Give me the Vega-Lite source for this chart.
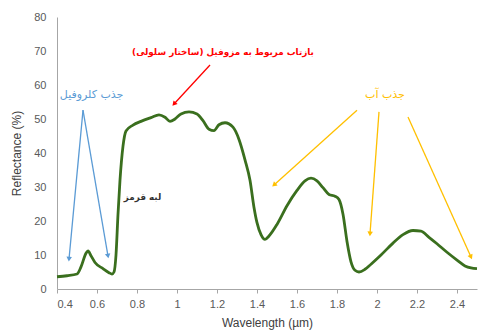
{
  "$schema": "https://vega.github.io/schema/vega-lite/v6.json",
  "width": 420,
  "height": 272,
  "autosize": {"type": "none"},
  "padding": {"left": 57, "top": 17, "right": 5, "bottom": 43},
  "background": "white",
  "config": {
    "view": {"stroke": null},
    "axis": {
      "labelFont": "Liberation Sans",
      "labelFontSize": 11,
      "labelColor": "#595959",
      "labelOverlap": false,
      "titleFont": "Liberation Sans",
      "titleFontSize": 12,
      "titleFontWeight": "normal",
      "titleColor": "#404040",
      "domainColor": "#a6a6a6",
      "tickColor": "#a6a6a6",
      "grid": false
    }
  },
  "datasets": {
    "spec": [
      {"w": 0.40, "r": 3.6}, {"w": 0.45, "r": 3.9}, {"w": 0.50, "r": 4.4}, {"w": 0.52, "r": 6.5},
      {"w": 0.545, "r": 10.5}, {"w": 0.555, "r": 11.2}, {"w": 0.57, "r": 9.8}, {"w": 0.59, "r": 7.8},
      {"w": 0.63, "r": 6.0}, {"w": 0.66, "r": 4.8}, {"w": 0.675, "r": 4.4}, {"w": 0.685, "r": 5.0},
      {"w": 0.695, "r": 10}, {"w": 0.705, "r": 22}, {"w": 0.715, "r": 32}, {"w": 0.73, "r": 42},
      {"w": 0.745, "r": 46.5}, {"w": 0.78, "r": 48.2}, {"w": 0.82, "r": 49.3}, {"w": 0.87, "r": 50.4},
      {"w": 0.91, "r": 51.2}, {"w": 0.94, "r": 50.5}, {"w": 0.965, "r": 49.3}, {"w": 0.99, "r": 50.0},
      {"w": 1.02, "r": 51.5}, {"w": 1.06, "r": 52.1}, {"w": 1.10, "r": 51.5}, {"w": 1.13, "r": 49.5},
      {"w": 1.16, "r": 47}, {"w": 1.185, "r": 46.6}, {"w": 1.21, "r": 48.3}, {"w": 1.24, "r": 48.9},
      {"w": 1.28, "r": 47.6}, {"w": 1.31, "r": 44}, {"w": 1.34, "r": 38}, {"w": 1.365, "r": 32},
      {"w": 1.385, "r": 24}, {"w": 1.40, "r": 19.5}, {"w": 1.42, "r": 16}, {"w": 1.44, "r": 14.6},
      {"w": 1.46, "r": 15.6}, {"w": 1.50, "r": 19}, {"w": 1.55, "r": 24.5}, {"w": 1.60, "r": 29},
      {"w": 1.64, "r": 31.8}, {"w": 1.67, "r": 32.6}, {"w": 1.70, "r": 31.8}, {"w": 1.73, "r": 29.8},
      {"w": 1.76, "r": 27.8}, {"w": 1.79, "r": 27.3}, {"w": 1.81, "r": 26.3}, {"w": 1.83, "r": 22},
      {"w": 1.85, "r": 14}, {"w": 1.87, "r": 8}, {"w": 1.89, "r": 5.5}, {"w": 1.91, "r": 5},
      {"w": 1.94, "r": 5.8}, {"w": 1.97, "r": 7.3}, {"w": 2.02, "r": 10}, {"w": 2.08, "r": 13.5},
      {"w": 2.13, "r": 16}, {"w": 2.18, "r": 17.2}, {"w": 2.22, "r": 17.0}, {"w": 2.26, "r": 15.2},
      {"w": 2.30, "r": 13.3}, {"w": 2.35, "r": 10.8}, {"w": 2.40, "r": 8.5}, {"w": 2.44, "r": 6.8},
      {"w": 2.47, "r": 6.2}, {"w": 2.50, "r": 6.0}
    ],
    "arrows": [
      {"g": "chl", "x1": 0.53, "y1": 52.6, "x2": 0.46, "y2": 8.8, "dir": 185},
      {"g": "chl", "x1": 0.53, "y1": 52.6, "x2": 0.655, "y2": 9.7, "dir": 170.5},
      {"g": "mes", "x1": 1.165, "y1": 65.9, "x2": 0.985, "y2": 54.4, "dir": 221.5},
      {"g": "wat", "x1": 1.9, "y1": 52.6, "x2": 1.485, "y2": 30.6, "dir": 228},
      {"g": "wat", "x1": 2.01, "y1": 52.1, "x2": 1.965, "y2": 16.2, "dir": 184},
      {"g": "wat", "x1": 2.155, "y1": 50.6, "x2": 2.47, "y2": 9.4, "dir": 156}
    ],
    "labelsNormal": [
      {"g": "chl", "x": 0.573, "y": 57.1, "t": "جذب کلروفیل"},
      {"g": "wat", "x": 2.04, "y": 57.1, "t": "جذب آب"}
    ],
    "labelsBold": [
      {"g": "mes", "x": 1.23, "y": 69.7, "t": "بازتاب مربوط به مزوفیل (ساختار سلولی)"},
      {"g": "red", "x": 0.8275, "y": 27, "t": "لبه قرمز"}
    ]
  },
  "encoding": {},
  "layer": [
    {
      "data": {"name": "spec"},
      "mark": {"type": "line", "interpolate": "monotone", "color": "#3a6f1e", "strokeWidth": 2.8},
      "encoding": {
        "x": {
          "field": "w", "type": "quantitative",
          "scale": {"domain": [0.4, 2.5], "nice": false, "zero": false},
          "axis": {
            "title": "Wavelength (µm)",
            "values": [0.4, 0.6, 0.8, 1, 1.2, 1.4, 1.6, 1.8, 2, 2.2, 2.4],
            "format": ".1~f",
            "labelOverlap": false,
            "tickSize": 4,
            "labelPadding": 5,
            "titlePadding": 8
          }
        },
        "y": {
          "field": "r", "type": "quantitative",
          "scale": {"domain": [0, 80], "nice": false},
          "axis": {
            "title": "Reflectance (%)",
            "values": [0, 10, 20, 30, 40, 50, 60, 70, 80],
            "labelOverlap": false,
            "ticks": false,
            "labelPadding": 11,
            "titlePadding": 10
          }
        }
      }
    },
    {
      "data": {"name": "arrows"},
      "mark": {"type": "rule", "strokeWidth": 1.3},
      "encoding": {
        "x": {"field": "x1", "type": "quantitative", "axis": {"title": "Wavelength (µm)", "values": [0.4, 0.6, 0.8, 1, 1.2, 1.4, 1.6, 1.8, 2, 2.2, 2.4], "format": ".1~f", "labelOverlap": false, "tickSize": 4, "labelPadding": 5, "titlePadding": 8}},
        "y": {"field": "y1", "type": "quantitative", "axis": {"title": "Reflectance (%)", "values": [0, 10, 20, 30, 40, 50, 60, 70, 80], "labelOverlap": false, "ticks": false, "labelPadding": 11, "titlePadding": 10}},
        "x2": {"field": "x2"},
        "y2": {"field": "y2"},
        "color": {"field": "g", "type": "nominal", "scale": {"domain": ["chl", "mes", "wat", "red"], "range": ["#5b9bd5", "#ff0000", "#ffc000", "#333333"]}, "legend": null}
      }
    },
    {
      "data": {"name": "arrows"},
      "mark": {"type": "point", "shape": "triangle-up", "filled": true, "size": 30, "opacity": 1},
      "encoding": {
        "x": {"field": "x2", "type": "quantitative", "axis": {"title": "Wavelength (µm)", "values": [0.4, 0.6, 0.8, 1, 1.2, 1.4, 1.6, 1.8, 2, 2.2, 2.4], "format": ".1~f", "labelOverlap": false, "tickSize": 4, "labelPadding": 5, "titlePadding": 8}},
        "y": {"field": "y2", "type": "quantitative", "axis": {"title": "Reflectance (%)", "values": [0, 10, 20, 30, 40, 50, 60, 70, 80], "labelOverlap": false, "ticks": false, "labelPadding": 11, "titlePadding": 10}},
        "angle": {"field": "dir", "type": "quantitative", "scale": null},
        "color": {"field": "g", "type": "nominal", "legend": null}
      }
    },
    {
      "data": {"name": "labelsNormal"},
      "mark": {"type": "text", "font": "DejaVu Sans", "fontSize": 11, "align": "center", "baseline": "middle"},
      "encoding": {
        "x": {"field": "x", "type": "quantitative", "axis": {"title": "Wavelength (µm)", "values": [0.4, 0.6, 0.8, 1, 1.2, 1.4, 1.6, 1.8, 2, 2.2, 2.4], "format": ".1~f", "labelOverlap": false, "tickSize": 4, "labelPadding": 5, "titlePadding": 8}},
        "y": {"field": "y", "type": "quantitative", "axis": {"title": "Reflectance (%)", "values": [0, 10, 20, 30, 40, 50, 60, 70, 80], "labelOverlap": false, "ticks": false, "labelPadding": 11, "titlePadding": 10}},
        "text": {"field": "t"},
        "color": {"field": "g", "type": "nominal", "legend": null}
      }
    },
    {
      "data": {"name": "labelsBold"},
      "mark": {"type": "text", "font": "DejaVu Sans", "fontSize": 8.8, "fontWeight": "bold", "align": "center", "baseline": "middle"},
      "encoding": {
        "x": {"field": "x", "type": "quantitative", "axis": {"title": "Wavelength (µm)", "values": [0.4, 0.6, 0.8, 1, 1.2, 1.4, 1.6, 1.8, 2, 2.2, 2.4], "format": ".1~f", "labelOverlap": false, "tickSize": 4, "labelPadding": 5, "titlePadding": 8}},
        "y": {"field": "y", "type": "quantitative", "axis": {"title": "Reflectance (%)", "values": [0, 10, 20, 30, 40, 50, 60, 70, 80], "labelOverlap": false, "ticks": false, "labelPadding": 11, "titlePadding": 10}},
        "text": {"field": "t"},
        "color": {"field": "g", "type": "nominal", "legend": null}
      }
    }
  ]
}
